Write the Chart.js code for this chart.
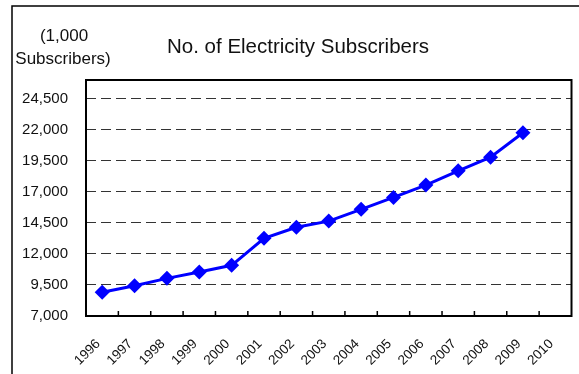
<!DOCTYPE html>
<html>
<head>
<meta charset="utf-8">
<script src="https://cdn.jsdelivr.net/npm/chart.js@4.4.0/dist/chart.umd.min.js"></script>
<style>
  html, body { margin: 0; padding: 0; background: #fff; }
  #wrap { width: 579px; height: 374px; }
</style>
</head>
<body>
<div id="wrap"><canvas id="subsChart" width="579" height="374"></canvas></div>
<script>
// data
const years = ['1996', '1997', '1998', '1999', '2000', '2001', '2002', '2003',
               '2004', '2005', '2006', '2007', '2008', '2009', '2010'];
const subscribers = [8910, 9440, 10030, 10540, 11080, 13250, 14140, 14640,
                     15590, 16550, 17540, 18690, 19790, 21750, null];
const yTicks = [7000, 9500, 12000, 14500, 17000, 19500, 22000, 24500];

const chartTitle = 'No. of Electricity Subscribers';
const unitLines = ['(1,000', 'Subscribers)'];

const font = "'Liberation Sans', Arial, sans-serif";

// frame, plot border, inner tick marks and the texts above the plot
const decorations = {
    id: 'decorations',
    beforeDraw(chart) {
        const ctx = chart.ctx;
        ctx.save();
        ctx.fillStyle = '#fff';
        ctx.fillRect(0, 0, chart.width, chart.height);
        ctx.strokeStyle = '#000';
        ctx.lineWidth = 1.5;
        ctx.strokeRect(12, 6, 700, 500);
        ctx.restore();
    },
    afterDraw(chart) {
        const ctx = chart.ctx;
        const area = chart.chartArea;
        const x = chart.scales.x;
        ctx.save();
        ctx.strokeStyle = '#000';
        ctx.lineWidth = 2;
        ctx.strokeRect(area.left, area.top, area.right - area.left, area.bottom - area.top);

        // tick marks between categories, pointing up into the plot
        ctx.lineWidth = 1.5;
        ctx.beginPath();
        for (let i = 1; i < years.length; i++) {
            const px = (x.getPixelForValue(i - 1) + x.getPixelForValue(i)) / 2;
            ctx.moveTo(px, area.bottom);
            ctx.lineTo(px, area.bottom - 5);
        }
        ctx.stroke();

        ctx.fillStyle = '#111';
        ctx.textAlign = 'center';
        ctx.textBaseline = 'alphabetic';
        ctx.font = '20.5px ' + font;
        ctx.fillText(chartTitle, 298, 53);
        ctx.font = '17px ' + font;
        ctx.fillText(unitLines[0], 64, 41);
        ctx.fillText(unitLines[1], 63, 64);
        ctx.restore();
    }
};

new Chart(document.getElementById('subsChart'), {
    type: 'line',
    data: {
        labels: years,
        datasets: [{
            label: 'Subscribers',
            data: subscribers,
            borderColor: '#0000ff',
            backgroundColor: '#0000ff',
            borderWidth: 3,
            pointStyle: 'rectRot',
            pointRadius: 7.5,
            pointHoverRadius: 7.5,
            pointBorderWidth: 0,
            tension: 0
        }]
    },
    options: {
        responsive: false,
        animation: false,
        layout: { padding: { top: 80, right: 2, left: 0, bottom: 0 } },
        plugins: {
            legend: { display: false },
            tooltip: { enabled: false }
        },
        scales: {
            x: {
                type: 'category',
                offset: true,
                grid: { display: false, drawTicks: false },
                border: { display: false },
                ticks: {
                    minRotation: 45,
                    maxRotation: 45,
                    padding: 20,
                    labelOffset: -4,
                    color: '#111',
                    font: { family: font, size: 13.5 }
                },
                afterFit(scale) {
                    scale.height = 58;
                    scale.paddingLeft = 0;
                    scale.paddingRight = 0;
                }
            },
            y: {
                min: 7000,
                max: 26000,
                afterBuildTicks(scale) {
                    scale.ticks = yTicks.map(v => ({ value: v }));
                },
                grid: {
                    color: '#333',
                    lineWidth: 1,
                    drawTicks: false
                },
                border: { display: false, dash: [10, 5] },
                ticks: {
                    padding: 18,
                    color: '#111',
                    font: { family: font, size: 15 },
                    callback: v => v.toLocaleString('en-US')
                },
                afterFit(scale) { scale.width = 86; }
            }
        }
    },
    plugins: [decorations]
});
</script>
</body>
</html>
